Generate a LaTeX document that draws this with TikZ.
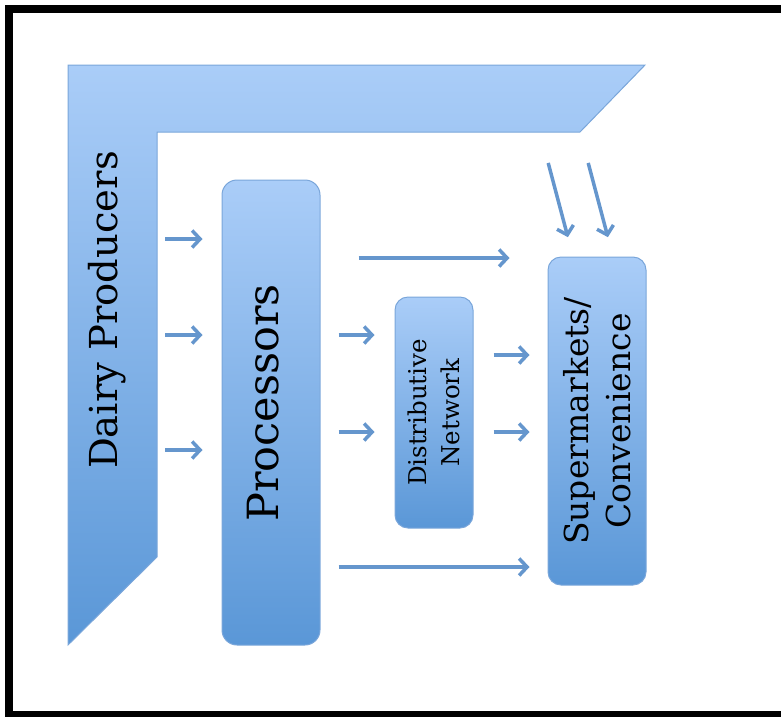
\documentclass[tikz,border=0pt]{standalone}
\usepackage{xcolor}
\usepackage{fontspec}
\setmainfont{DejaVu Serif}
\usetikzlibrary{arrows.meta}
\definecolor{boxtop}{HTML}{AACDF8}
\definecolor{boxbot}{HTML}{5A97D7}
\definecolor{boxline}{HTML}{7AA6DA}
\definecolor{arrblue}{HTML}{6596CD}

\begin{document}
\begin{tikzpicture}[
  x=1pt, y=-1pt,
  blk/.style={draw=boxline, line width=1pt, rounded corners=13pt,
              top color=boxtop, bottom color=boxbot},
  lbl/.style={rotate=90, align=center, inner sep=0pt},
  arr/.style={-{Straight Barb[length=8pt, width=17pt]}, line width=3.5pt,
              arrblue}
]
  \useasboundingbox (0,0) rectangle (781,716);
  \draw[line width=8pt] (9,9) rectangle (800,715);

  % producers band
  \coordinate (dairyin) at (157,132);
  \coordinate (barA) at (540,132);
  \coordinate (barB) at (580,132);
  \draw[draw=boxline, line width=1pt, top color=boxtop, bottom color=boxbot]
    (68,65) -- (645,65) -- (barB) -- (dairyin) -- (157,557) -- (68,645) -- cycle;
  \node[lbl, font=\fontsize{38.5}{44}\selectfont] (dairy) at (107,310) {Dairy Producers};

  % boxes
  \node[blk, rounded corners=15pt, minimum width=98pt, minimum height=465pt]
    (proc) at (271,412.5) {};
  \node[lbl, font=\fontsize{43}{50}\selectfont] at (263,403) {Processors};
  \node[blk, minimum width=78pt, minimum height=231pt] (dist) at (434,412.5) {};
  \node[lbl, font=\fontsize{24.5}{33}\selectfont] at (dist) {Distributive\\Network};
  \node[blk, minimum width=98pt, minimum height=328pt] (super) at (597,421) {};
  \node[lbl, font=\fontsize{33}{42}\selectfont] at (super) {Supermarkets/\\Convenience};

  % flows
  \foreach \y in {239,335,450}
    \draw[arr, shorten <=8pt, shorten >=19pt] (dairyin |- 0,\y) -- (proc.west |- 0,\y);
  \foreach \y in {335,432}
    \draw[arr, shorten <=18pt, shorten >=20pt] (proc.east |- 0,\y) -- (dist.west |- 0,\y);
  \foreach \y in {355,432}
    \draw[arr, shorten <=20pt, shorten >=18pt] (dist.east |- 0,\y) -- (super.west |- 0,\y);
  \draw[arr, shorten <=38pt, shorten >=38pt] (proc.east |- 0,258) -- (super.west |- 0,258);
  \draw[arr, shorten <=18pt, shorten >=18pt] (proc.east |- 0,567) -- (super.west |- 0,567);
  \draw[arr, shorten <=32pt, shorten >=20pt] (barA) -- (super.north -| 573,0);
  \draw[arr, shorten <=32pt, shorten >=20pt] (barB) -- (super.north -| 613,0);
\end{tikzpicture}
\end{document}
